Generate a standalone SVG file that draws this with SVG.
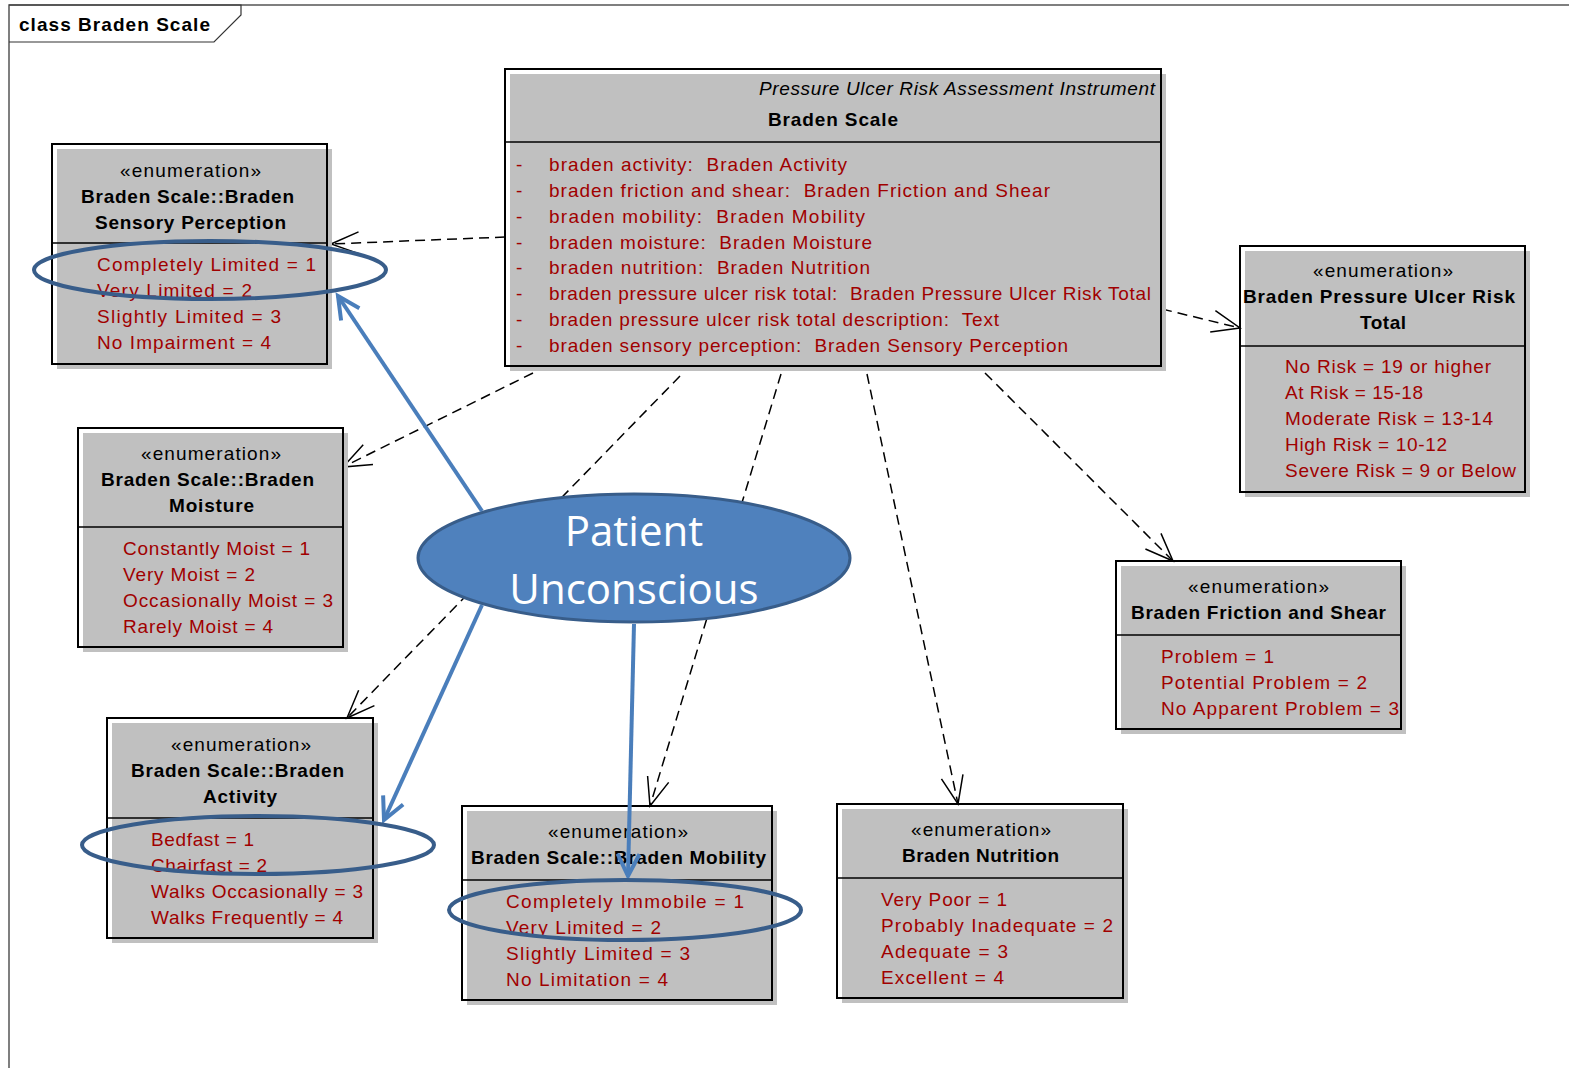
<svg xmlns="http://www.w3.org/2000/svg" width="1569" height="1068" viewBox="0 0 1569 1068">
<defs>
<style>
.shadow{fill:#c0c0c0;stroke:none}
.border{fill:none;stroke:#000;stroke-width:2}
.div{stroke:#000;stroke-width:1.5}
.st{font-family:"Liberation Sans",Arial,sans-serif;font-size:19px;fill:#000}
.ti{font-family:"Liberation Sans",Arial,sans-serif;font-size:19px;font-weight:bold;fill:#000}
.it{font-family:"Liberation Sans",Arial,sans-serif;font-size:19px;fill:#a00000}
.dep{fill:none;stroke:#000;stroke-width:1.5;stroke-dasharray:10 6}
.hl{fill:none;stroke:#4a7ebb;stroke-width:4}
.ring{fill:none;stroke:#385d8a;stroke-width:4}
</style>
<marker id="open" markerUnits="userSpaceOnUse" markerWidth="40" markerHeight="40" refX="30" refY="20" orient="auto">
<path d="M2,9 L30,20 L2,31" fill="none" stroke="#000" stroke-width="1.5"/>
</marker>
<marker id="blue" markerUnits="userSpaceOnUse" markerWidth="40" markerHeight="40" refX="30" refY="20" orient="auto">
<path d="M8,9 L30,20 L8,31" fill="none" stroke="#4a7ebb" stroke-width="4"/>
</marker>
</defs>
<rect width="1569" height="1068" fill="#fff"/>
<g id="frame">
<path d="M9,1068 L9,5 L1569,5" fill="none" stroke="#555" stroke-width="1.5"/>
<path d="M9,5 L241,5 L241,15 L214,42 L9,42" fill="none" stroke="#333" stroke-width="1.2"/>
<text x="19" y="31" font-family="Liberation Sans,Arial,sans-serif" font-size="19" font-weight="bold" textLength="191" lengthAdjust="spacing">class Braden Scale</text>
</g>
<g id="connectors">
<path class="dep" d="M505,237 L331,244" marker-end="url(#open)"/>
<path class="dep" d="M533,373 L343,467" marker-end="url(#open)"/>
<path class="dep" d="M680,376 L347,718" marker-end="url(#open)"/>
<path class="dep" d="M781,374 L650,806" marker-end="url(#open)"/>
<path class="dep" d="M867,374 L958,804" marker-end="url(#open)"/>
<path class="dep" d="M985,373 L1173,561" marker-end="url(#open)"/>
<path class="dep" d="M1162,309 L1240,328" marker-end="url(#open)"/>
</g>
<g id="braden-scale">
<rect class="shadow" x="510" y="74" width="656" height="297"/>
<rect class="border" x="505" y="69" width="656" height="297"/>
<line class="div" x1="505" y1="142" x2="1161" y2="142"/>
<text x="759" y="95" font-family="Liberation Sans,Arial,sans-serif" font-size="19" font-style="italic" textLength="396" lengthAdjust="spacing">Pressure Ulcer Risk Assessment Instrument</text>
<text class="ti" x="768" y="126" textLength="130" lengthAdjust="spacing">Braden Scale</text>
<g class="it">
<text x="516" y="171">-</text><text x="549" y="171" textLength="298" lengthAdjust="spacing">braden activity:&#160; Braden Activity</text>
<text x="516" y="197">-</text><text x="549" y="197" textLength="501" lengthAdjust="spacing">braden friction and shear:&#160; Braden Friction and Shear</text>
<text x="516" y="223">-</text><text x="549" y="223" textLength="316" lengthAdjust="spacing">braden mobility:&#160; Braden Mobility</text>
<text x="516" y="249">-</text><text x="549" y="249" textLength="323" lengthAdjust="spacing">braden moisture:&#160; Braden Moisture</text>
<text x="516" y="274">-</text><text x="549" y="274" textLength="321" lengthAdjust="spacing">braden nutrition:&#160; Braden Nutrition</text>
<text x="516" y="300">-</text><text x="549" y="300" textLength="602" lengthAdjust="spacing">braden pressure ulcer risk total:&#160; Braden Pressure Ulcer Risk Total</text>
<text x="516" y="326">-</text><text x="549" y="326" textLength="450" lengthAdjust="spacing">braden pressure ulcer risk total description:&#160; Text</text>
<text x="516" y="352">-</text><text x="549" y="352" textLength="519" lengthAdjust="spacing">braden sensory perception:&#160; Braden Sensory Perception</text>
</g>
</g>
<g id="sensory-perception">
<rect class="shadow" x="57" y="149" width="275" height="220"/>
<rect class="border" x="52" y="144" width="275" height="220"/>
<line class="div" x1="52" y1="243" x2="327" y2="243"/>
<text class="st" x="120" y="177" textLength="141" lengthAdjust="spacing">«enumeration»</text>
<text class="ti" x="81" y="203" textLength="213" lengthAdjust="spacing">Braden Scale::Braden</text>
<text class="ti" x="95" y="229" textLength="191" lengthAdjust="spacing">Sensory Perception</text>
<text class="it" x="97" y="271" textLength="219" lengthAdjust="spacing">Completely Limited = 1</text>
<text class="it" x="97" y="297" textLength="155" lengthAdjust="spacing">Very Limited = 2</text>
<text class="it" x="97" y="323" textLength="184" lengthAdjust="spacing">Slightly Limited = 3</text>
<text class="it" x="97" y="349" textLength="174" lengthAdjust="spacing">No Impairment = 4</text>
</g>
<g id="moisture">
<rect class="shadow" x="83" y="433" width="265" height="219"/>
<rect class="border" x="78" y="428" width="265" height="219"/>
<line class="div" x1="78" y1="527" x2="343" y2="527"/>
<text class="st" x="141" y="460" textLength="140" lengthAdjust="spacing">«enumeration»</text>
<text class="ti" x="101" y="486" textLength="213" lengthAdjust="spacing">Braden Scale::Braden</text>
<text class="ti" x="169" y="512" textLength="85" lengthAdjust="spacing">Moisture</text>
<text class="it" x="123" y="555" textLength="187" lengthAdjust="spacing">Constantly Moist = 1</text>
<text class="it" x="123" y="581" textLength="132" lengthAdjust="spacing">Very Moist = 2</text>
<text class="it" x="123" y="607" textLength="210" lengthAdjust="spacing">Occasionally Moist = 3</text>
<text class="it" x="123" y="633" textLength="150" lengthAdjust="spacing">Rarely Moist = 4</text>
</g>
<g id="activity">
<rect class="shadow" x="112" y="723" width="266" height="220"/>
<rect class="border" x="107" y="718" width="266" height="220"/>
<line class="div" x1="107" y1="818" x2="373" y2="818"/>
<text class="st" x="171" y="751" textLength="140" lengthAdjust="spacing">«enumeration»</text>
<text class="ti" x="131" y="777" textLength="213" lengthAdjust="spacing">Braden Scale::Braden</text>
<text class="ti" x="203" y="803" textLength="74" lengthAdjust="spacing">Activity</text>
<text class="it" x="151" y="846" textLength="103" lengthAdjust="spacing">Bedfast = 1</text>
<text class="it" x="151" y="872" textLength="116" lengthAdjust="spacing">Chairfast = 2</text>
<text class="it" x="151" y="898" textLength="212" lengthAdjust="spacing">Walks Occasionally = 3</text>
<text class="it" x="151" y="924" textLength="192" lengthAdjust="spacing">Walks Frequently = 4</text>
</g>
<g id="mobility">
<rect class="shadow" x="467" y="811" width="310" height="194"/>
<rect class="border" x="462" y="806" width="310" height="194"/>
<line class="div" x1="462" y1="880" x2="772" y2="880"/>
<text class="st" x="548" y="838" textLength="140" lengthAdjust="spacing">«enumeration»</text>
<text class="ti" x="471" y="864" textLength="295" lengthAdjust="spacing">Braden Scale::Braden Mobility</text>
<text class="it" x="506" y="908" textLength="238" lengthAdjust="spacing">Completely Immobile = 1</text>
<text class="it" x="506" y="934" textLength="155" lengthAdjust="spacing">Very Limited = 2</text>
<text class="it" x="506" y="960" textLength="184" lengthAdjust="spacing">Slightly Limited = 3</text>
<text class="it" x="506" y="986" textLength="162" lengthAdjust="spacing">No Limitation = 4</text>
</g>
<g id="nutrition">
<rect class="shadow" x="842" y="809" width="286" height="194"/>
<rect class="border" x="837" y="804" width="286" height="194"/>
<line class="div" x1="837" y1="878" x2="1123" y2="878"/>
<text class="st" x="911" y="836" textLength="140" lengthAdjust="spacing">«enumeration»</text>
<text class="ti" x="902" y="862" textLength="157" lengthAdjust="spacing">Braden Nutrition</text>
<text class="it" x="881" y="906" textLength="126" lengthAdjust="spacing">Very Poor = 1</text>
<text class="it" x="881" y="932" textLength="232" lengthAdjust="spacing">Probably Inadequate = 2</text>
<text class="it" x="881" y="958" textLength="127" lengthAdjust="spacing">Adequate = 3</text>
<text class="it" x="881" y="984" textLength="123" lengthAdjust="spacing">Excellent = 4</text>
</g>
<g id="friction-shear">
<rect class="shadow" x="1121" y="566" width="285" height="168"/>
<rect class="border" x="1116" y="561" width="285" height="168"/>
<line class="div" x1="1116" y1="635" x2="1401" y2="635"/>
<text class="st" x="1188" y="593" textLength="141" lengthAdjust="spacing">«enumeration»</text>
<text class="ti" x="1131" y="619" textLength="255" lengthAdjust="spacing">Braden Friction and Shear</text>
<text class="it" x="1161" y="663" textLength="113" lengthAdjust="spacing">Problem = 1</text>
<text class="it" x="1161" y="689" textLength="206" lengthAdjust="spacing">Potential Problem = 2</text>
<text class="it" x="1161" y="715" textLength="238" lengthAdjust="spacing">No Apparent Problem = 3</text>
</g>
<g id="risk-total">
<rect class="shadow" x="1245" y="251" width="285" height="246"/>
<rect class="border" x="1240" y="246" width="285" height="246"/>
<line class="div" x1="1240" y1="346" x2="1525" y2="346"/>
<text class="st" x="1313" y="277" textLength="140" lengthAdjust="spacing">«enumeration»</text>
<text class="ti" x="1243" y="303" textLength="272" lengthAdjust="spacing">Braden Pressure Ulcer Risk</text>
<text class="ti" x="1360" y="329" textLength="46" lengthAdjust="spacing">Total</text>
<text class="it" x="1285" y="373" textLength="206" lengthAdjust="spacing">No Risk = 19 or higher</text>
<text class="it" x="1285" y="399" textLength="138" lengthAdjust="spacing">At Risk = 15-18</text>
<text class="it" x="1285" y="425" textLength="208" lengthAdjust="spacing">Moderate Risk = 13-14</text>
<text class="it" x="1285" y="451" textLength="162" lengthAdjust="spacing">High Risk = 10-12</text>
<text class="it" x="1285" y="477" textLength="231" lengthAdjust="spacing">Severe Risk = 9 or Below</text>
</g>
<g id="patient-unconscious">
<ellipse cx="634" cy="558" rx="216" ry="64" fill="#4f81bd" stroke="#385d8a" stroke-width="3"/>
<text x="634" y="546" font-family="Open Sans,Noto Sans,sans-serif" font-size="42" fill="#fff" text-anchor="middle">Patient</text>
<text x="634" y="604" font-family="Open Sans,Noto Sans,sans-serif" font-size="42" fill="#fff" text-anchor="middle">Unconscious</text>
</g>
<g id="highlights">
<path class="hl" d="M482,511 L338,296" marker-end="url(#blue)"/>
<path class="hl" d="M482,605 L384,820" marker-end="url(#blue)"/>
<path class="hl" d="M634,624 L628,876" marker-end="url(#blue)"/>
<ellipse class="ring" cx="210" cy="270" rx="176" ry="29"/>
<ellipse class="ring" cx="258" cy="845" rx="176" ry="29"/>
<ellipse class="ring" cx="625" cy="910" rx="176" ry="30"/>
</g>
</svg>
